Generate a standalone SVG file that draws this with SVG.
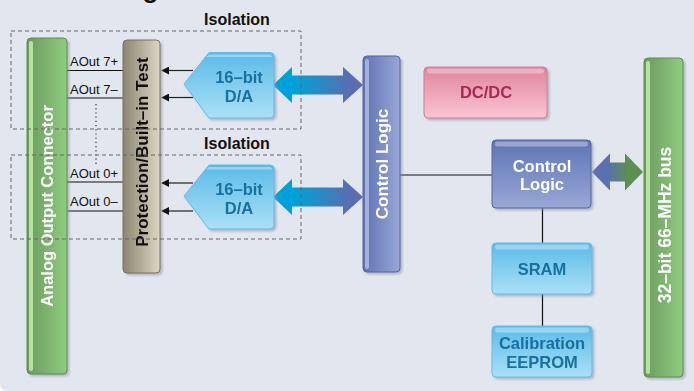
<svg xmlns="http://www.w3.org/2000/svg" width="694" height="391" viewBox="0 0 694 391">
<defs>
<style>
.lbl{font-family:"Liberation Sans",Arial,sans-serif;font-weight:bold;}
.reg{font-family:"Liberation Sans",Arial,sans-serif;font-size:13px;fill:#111;}
.iso{font-size:16px;fill:#111;text-anchor:middle;}
.wt{fill:#fff;text-anchor:middle;}
.teal{fill:#17719f;text-anchor:middle;font-size:16.5px;}
.dash{fill:none;stroke:#666;stroke-width:1;stroke-dasharray:4 3;}
.wire{stroke:#111;stroke-width:1.2;fill:none;}
.arr{stroke:#222;stroke-width:1.2;fill:none;marker-end:url(#ah);}
.hl{fill:#fff;opacity:0.35;}
</style>
<marker id="ah" viewBox="0 0 10 10" refX="9" refY="5" markerWidth="8" markerHeight="8" markerUnits="userSpaceOnUse" orient="auto">
<path d="M0,0 L10,5 L0,10 z" fill="#111"/>
</marker>
<filter id="sh" x="-20%" y="-20%" width="140%" height="140%">
<feDropShadow dx="2" dy="2" stdDeviation="1" flood-color="#8a90a0" flood-opacity="0.55"/>
</filter>
<linearGradient id="gGreen" x1="0" y1="0" x2="1" y2="0">
<stop offset="0" stop-color="#6b9b60"/><stop offset="1" stop-color="#8fcc7e"/>
</linearGradient>
<linearGradient id="gTan" x1="0" y1="0" x2="1" y2="0">
<stop offset="0" stop-color="#8b8571"/><stop offset="1" stop-color="#ddd6c2"/>
</linearGradient>
<linearGradient id="gBlueV" x1="0" y1="0" x2="1" y2="0">
<stop offset="0" stop-color="#5f73b3"/><stop offset="1" stop-color="#98a7d7"/>
</linearGradient>
<linearGradient id="gBlueBox" x1="0" y1="0" x2="0" y2="1">
<stop offset="0" stop-color="#5f74b5"/><stop offset="1" stop-color="#97a7d6"/>
</linearGradient>
<linearGradient id="gLight" x1="0" y1="0" x2="0" y2="1">
<stop offset="0" stop-color="#5bbbe8"/><stop offset="1" stop-color="#abe0f6"/>
</linearGradient>
<linearGradient id="gPink" x1="0" y1="0" x2="0" y2="1">
<stop offset="0" stop-color="#df839b"/><stop offset="1" stop-color="#fac6d3"/>
</linearGradient>
<linearGradient id="gArr" gradientUnits="userSpaceOnUse" x1="273" y1="0" x2="363" y2="0">
<stop offset="0.25" stop-color="#00a1da"/><stop offset="0.85" stop-color="#5a6db0"/>
</linearGradient>
<linearGradient id="gArr2" gradientUnits="userSpaceOnUse" x1="592" y1="0" x2="643" y2="0">
<stop offset="0.3" stop-color="#5a70b0"/><stop offset="0.7" stop-color="#5a9050"/>
</linearGradient>
</defs>

<rect x="0" y="-20" width="720" height="411" rx="7" fill="#e2e6ef"/>
<text class="lbl" x="24" y="-2.5" font-size="26" fill="#111">Block Diagram</text>

<g id="connectors">
<line class="wire" x1="67" y1="70.5" x2="123" y2="70.5"/>
<line class="wire" x1="67" y1="98" x2="123" y2="98"/>
<line class="wire" x1="67" y1="182" x2="123" y2="182"/>
<line class="wire" x1="67" y1="211" x2="123" y2="211"/>
<line x1="96" y1="104" x2="96" y2="166" stroke="#333" stroke-width="1.2" stroke-dasharray="1.2 3"/>
<line class="arr" x1="193" y1="70.5" x2="162" y2="70.5"/>
<line class="arr" x1="193" y1="97.5" x2="162" y2="97.5"/>
<line class="arr" x1="193" y1="183" x2="162" y2="183"/>
<line class="arr" x1="193" y1="211" x2="162" y2="211"/>
<polygon points="273,85 292,67 292,75.5 343,75.5 343,67 363,85 343,103 343,94.5 292,94.5 292,103" fill="url(#gArr)"/>
<polygon points="273,197 292,179 292,187.5 343,187.5 343,179 363,197 343,215 343,206.5 292,206.5 292,215" fill="url(#gArr)"/>
<line class="wire" x1="400" y1="175" x2="492" y2="175"/>
<line class="wire" x1="542.5" y1="208" x2="542.5" y2="243"/>
<line class="wire" x1="542.5" y1="294" x2="542.5" y2="326"/>
<polygon points="592,172 610,153.5 610,162.5 625,162.5 625,153.5 643,172 625,190.5 625,181.5 610,181.5 610,190.5" fill="url(#gArr2)"/>
</g>

<g id="analog-connector" filter="url(#sh)">
<rect x="27" y="38" width="40" height="336" rx="4" fill="url(#gGreen)" stroke="#5c8e51" stroke-width="1"/>
<rect x="29" y="41" width="4" height="330" rx="2" fill="#b6e39c"/>
<text class="lbl wt" font-size="16.5" transform="translate(53,206) rotate(-90)">Analog Output Connector</text>
</g>

<g id="protection" filter="url(#sh)">
<rect x="123" y="40" width="37" height="233" rx="4" fill="url(#gTan)" stroke="#77715d" stroke-width="1"/>
<text class="lbl" font-size="17" fill="#111" text-anchor="middle" transform="translate(147.5,152) rotate(-90)">Protection/Built–in Test</text>
</g>

<g id="aout-labels">
<text class="reg" x="70" y="66">AOut 7+</text>
<text class="reg" x="70" y="94">AOut 7–</text>
<text class="reg" x="70" y="178">AOut 0+</text>
<text class="reg" x="70" y="206">AOut 0–</text>
</g>

<g id="da1" filter="url(#sh)">
<path d="M184,84 L209,52.5 L270,52.5 Q274,52.5 274,56.5 L274,114 Q274,118 270,118 L209,118 Z" fill="url(#gLight)" stroke="#62bbe8" stroke-width="1"/>
<path d="M206,57 L209,54.5 L270,54.5 Q272,54.5 272,57 Z" class="hl"/>
<text class="lbl teal" x="239" y="83">16–bit</text>
<text class="lbl teal" x="239" y="102">D/A</text>
</g>

<g id="da2" filter="url(#sh)">
<path d="M184,196 L209,165 L270,165 Q274,165 274,169 L274,225 Q274,229 270,229 L209,229 Z" fill="url(#gLight)" stroke="#62bbe8" stroke-width="1"/>
<path d="M206,169.5 L209,167 L270,167 Q272,167 272,169.5 Z" class="hl"/>
<text class="lbl teal" x="239" y="195">16–bit</text>
<text class="lbl teal" x="239" y="214">D/A</text>
</g>

<g id="control-logic-bar" filter="url(#sh)">
<rect x="363" y="56" width="37" height="216" rx="4" fill="url(#gBlueV)" stroke="#5265a5" stroke-width="1"/>
<rect x="365" y="59" width="4" height="210" rx="2" fill="#b3bfe6" opacity="0.8"/>
<text class="lbl wt" font-size="17" transform="translate(388,164) rotate(-90)">Control Logic</text>
</g>

<g id="dcdc" filter="url(#sh)">
<rect x="424" y="67" width="123" height="51" rx="4" fill="url(#gPink)" stroke="#d57a92" stroke-width="1"/>
<rect x="427" y="68.5" width="117" height="5" rx="2.5" class="hl"/>
<text class="lbl" x="486" y="98" font-size="16.5" fill="#a52a55" text-anchor="middle">DC/DC</text>
</g>

<g id="control-logic-box" filter="url(#sh)">
<rect x="492" y="140" width="99" height="68" rx="4" fill="url(#gBlueBox)" stroke="#5366a6" stroke-width="1"/>
<rect x="495" y="141.5" width="93" height="5" rx="2.5" class="hl"/>
<text class="lbl wt" x="542" y="172" font-size="16.5">Control</text>
<text class="lbl wt" x="542" y="190" font-size="16.5">Logic</text>
</g>

<g id="bus" filter="url(#sh)">
<rect x="644" y="58" width="39" height="319" rx="4" fill="url(#gGreen)" stroke="#5c8e51" stroke-width="1"/>
<rect x="646" y="61" width="4" height="313" rx="2" fill="#b6e39c"/>
<text class="lbl wt" font-size="17.5" transform="translate(671,225) rotate(-90)">32–bit 66–MHz bus</text>
</g>

<g id="sram" filter="url(#sh)">
<rect x="492" y="243" width="100" height="51" rx="4" fill="url(#gLight)" stroke="#62bbe8" stroke-width="1"/>
<rect x="495" y="244.5" width="94" height="5" rx="2.5" class="hl"/>
<text class="lbl teal" x="542" y="275">SRAM</text>
</g>

<g id="eeprom" filter="url(#sh)">
<rect x="492" y="326" width="100" height="51" rx="4" fill="url(#gLight)" stroke="#62bbe8" stroke-width="1"/>
<rect x="495" y="327.5" width="94" height="5" rx="2.5" class="hl"/>
<text class="lbl teal" x="542" y="349">Calibration</text>
<text class="lbl teal" x="542" y="368">EEPROM</text>
</g>

<g id="isolation-1">
<rect class="dash" x="11" y="31" width="290" height="98"/>
<text class="lbl iso" x="237" y="25">Isolation</text>
</g>
<g id="isolation-2">
<rect class="dash" x="11" y="155" width="290" height="84"/>
<text class="lbl iso" x="237" y="149">Isolation</text>
</g>
</svg>
